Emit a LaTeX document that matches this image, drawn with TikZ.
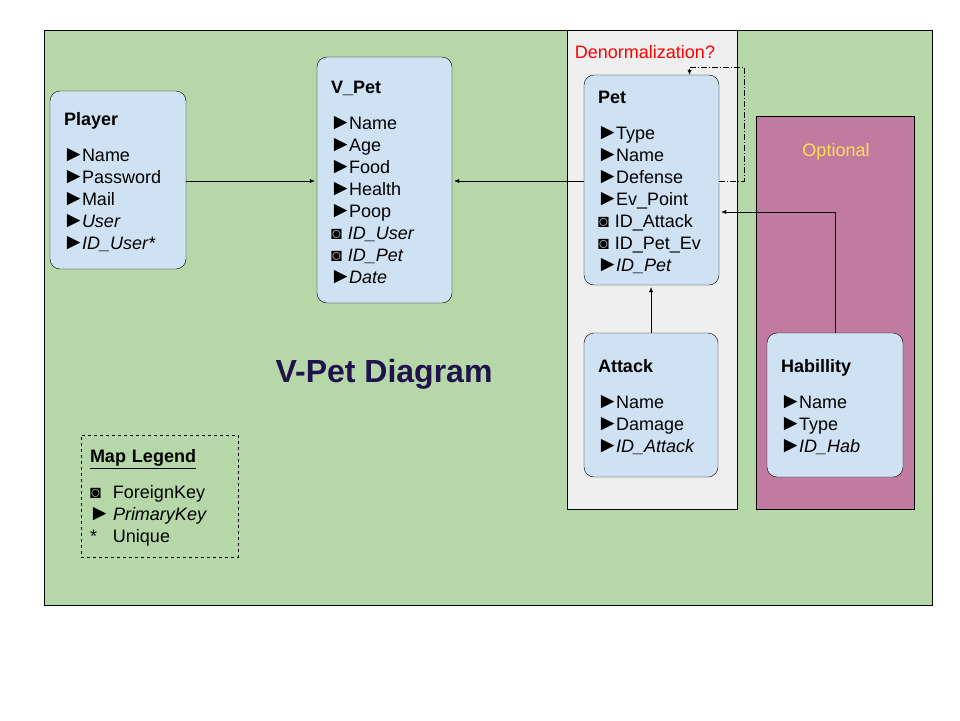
\documentclass[tikz,border=0pt]{standalone}
\usepackage{fontspec}
\usepackage{graphicx}
\setmainfont{Liberation Sans}
\usetikzlibrary{positioning,calc,arrows.meta}
\definecolor{bggreen}{HTML}{B6D7A8}
\definecolor{entblue}{HTML}{CFE2F3}
\definecolor{denorm}{HTML}{EFEFEF}
\definecolor{optpink}{HTML}{C27BA0}
\definecolor{optgold}{HTML}{FFE14D}
\definecolor{titlenavy}{HTML}{20124D}
\newcommand{\pkey}{\makebox[18pt][l]{\hspace{-1.5pt}\scalebox{1.25}{►}}}
\newcommand{\fkey}{◙~}
\newcommand{\etitle}[1]{\rule{0pt}{17pt}\textbf{#1}}
\tikzset{
  entity/.style={draw=black, rounded corners=10pt, fill=entblue, align=left,
    font=\fontsize{18}{22}\selectfont, inner xsep=14pt, inner ysep=0pt},
  link/.style={thin, -{Latex[length=5pt,width=4pt]}, shorten >=2pt}
}

\begin{document}
\begin{tikzpicture}[x=1pt, y=-1pt]
\useasboundingbox[fill=white] (0,0) rectangle (960,720);
\fill[bggreen, draw=black] (44,30) rectangle (932,605);
\fill[denorm, draw=black] (567,30) rectangle (737,509);
\fill[optpink, draw=black] (756,116) rectangle (914,509);

\node[text=red, font=\fontsize{18}{22}\selectfont] (den) at (645,52) {Denormalization?};
\node[text=optgold, font=\fontsize{18}{22}\selectfont] (opt) at (836,152) {Optional};

\node[entity, text width=108pt, minimum height=178pt] (player) at (118,180)
{\etitle{Player}\\[14pt]
\pkey Name\\
\pkey Password\\
\pkey Mail\\
\pkey\textit{User}\\
\pkey\textit{ID\_User*}};

\node[entity, text width=107pt, minimum height=246pt] (vpet) at (384.5,180)
{\etitle{V\_Pet}\\[14pt]
\pkey Name\\
\pkey Age\\
\pkey Food\\
\pkey Health\\
\pkey Poop\\
\fkey\textit{ID\_User}\\
\fkey\textit{ID\_Pet}\\
\pkey\textit{Date}};

\node[entity, text width=107pt, minimum height=210pt] (pet) at (651.5,180)
{\etitle{Pet}\\[14pt]
\pkey Type\\
\pkey Name\\
\pkey Defense\\
\pkey Ev\_Point\\
\fkey ID\_Attack\\
\fkey ID\_Pet\_Ev\\
\pkey\textit{ID\_Pet}};

\node[entity, text width=106pt, minimum height=144pt] (attack) at (651,405)
{\etitle{Attack}\\[14pt]
\pkey Name\\
\pkey Damage\\
\pkey\textit{ID\_Attack}};

\node[entity, text width=108pt, minimum height=144pt] (hab) at (835,405)
{\etitle{Habillity}\\[14pt]
\pkey Name\\
\pkey Type\\
\pkey\textit{ID\_Hab}};

\node[font=\bfseries\fontsize{32}{36}\selectfont, text=titlenavy] (title) at (384,374) {V-Pet Diagram};

\node[draw=black, dashed, align=left, font=\fontsize{18}{22}\selectfont,
      text width=139pt, minimum height=122pt, inner xsep=9pt, inner ysep=0pt] (legend) at (159.5,496)
{\rule{0pt}{17pt}\textbf{\underline{Map Legend}}\\[14pt]
\makebox[23pt][l]{◙}ForeignKey\\
\makebox[23pt][l]{\hspace{-1.5pt}\scalebox{1.25}{►}}\textit{PrimaryKey}\\
\makebox[23pt][l]{*}Unique};

\draw[link] (player.east |- 0,181) -- (vpet.west |- 0,181);
\draw[link] (pet.west |- 0,181) -- (vpet.east |- 0,181);
\draw[link] (attack.north) -- (pet.south -| attack.north);
\draw[link] (hab.north) |- (pet.east |- 0,212);
\coordinate (loopa) at (744,181);
\coordinate (loopb) at (744,67);
\draw[thin, dash pattern=on 6pt off 2pt on 1pt off 2pt, -{Latex[length=5pt,width=4pt]}]
  (pet.east |- loopa) -- (loopa) -- (loopb) -| ($(pet.north)+(38,0)$);
\end{tikzpicture}
\end{document}
